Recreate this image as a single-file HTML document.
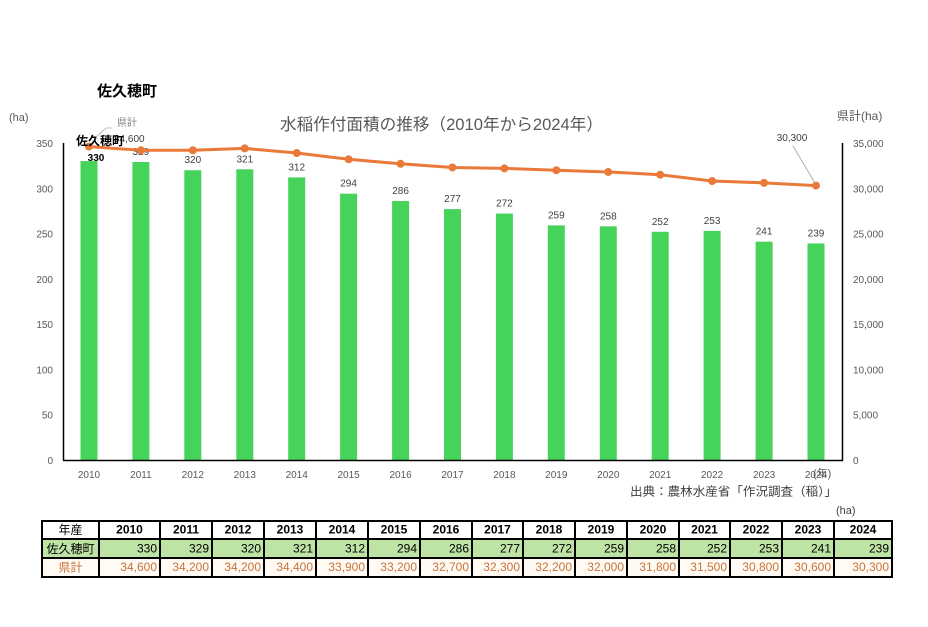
<!DOCTYPE html>
<html><head><meta charset="utf-8"><style>
html,body{margin:0;padding:0;background:#fff;}
svg{display:block;font-family:"Liberation Sans","Noto Sans CJK JP",sans-serif;}
</style></head><body>
<svg width="928" height="627" viewBox="0 0 928 627" xmlns="http://www.w3.org/2000/svg">
<rect width="928" height="627" fill="#fff"/>
<!-- heading -->
<text x="97" y="96" font-size="15" font-weight="bold" fill="#000">佐久穂町</text>
<!-- title -->
<text x="280" y="130" font-size="16.5" fill="#595959" textLength="323" lengthAdjust="spacingAndGlyphs">水稲作付面積の推移（2010年から2024年）</text>
<text x="9" y="121" font-size="11" fill="#595959">(ha)</text>
<text x="837" y="120" font-size="12" fill="#595959">県計(ha)</text>

<!-- left ticks -->
<g font-size="10" fill="#595959" text-anchor="end">
<text x="53" y="147">350</text>
<text x="53" y="192.3">300</text>
<text x="53" y="237.6">250</text>
<text x="53" y="282.9">200</text>
<text x="53" y="328.1">150</text>
<text x="53" y="373.4">100</text>
<text x="53" y="418.7">50</text>
<text x="53" y="464">0</text>
</g>
<g font-size="10" fill="#595959" text-anchor="start">
<text x="853" y="147">35,000</text>
<text x="853" y="192.3">30,000</text>
<text x="853" y="237.6">25,000</text>
<text x="853" y="282.9">20,000</text>
<text x="853" y="328.1">15,000</text>
<text x="853" y="373.4">10,000</text>
<text x="853" y="418.7">5,000</text>
<text x="853" y="464">0</text>
</g>

<!-- bars -->
<g fill="#46d35a">
<rect x="80.5" y="161.1" width="17" height="298.9"/>
<rect x="132.4" y="162.0" width="17" height="298.0"/>
<rect x="184.3" y="170.2" width="17" height="289.8"/>
<rect x="236.3" y="169.3" width="17" height="290.7"/>
<rect x="288.2" y="177.4" width="17" height="282.6"/>
<rect x="340.1" y="193.7" width="17" height="266.3"/>
<rect x="392.1" y="201.0" width="17" height="259.0"/>
<rect x="444.0" y="209.1" width="17" height="250.9"/>
<rect x="495.9" y="213.6" width="17" height="246.4"/>
<rect x="547.8" y="225.4" width="17" height="234.6"/>
<rect x="599.8" y="226.3" width="17" height="233.7"/>
<rect x="651.7" y="231.8" width="17" height="228.2"/>
<rect x="703.6" y="230.9" width="17" height="229.1"/>
<rect x="755.6" y="241.7" width="17" height="218.3"/>
<rect x="807.5" y="243.5" width="17" height="216.5"/>
</g>

<!-- axes -->
<g stroke="#000" stroke-width="1.5" fill="none">
<line x1="63.5" y1="143" x2="63.5" y2="460.5"/>
<line x1="63" y1="460.5" x2="843" y2="460.5"/>
<line x1="842.5" y1="143" x2="842.5" y2="460.5"/>
</g>

<!-- bar labels -->
<g font-size="10" fill="#404040" text-anchor="middle">
<text x="96" y="161" font-weight="bold" fill="#000">330</text>
<text x="140.9" y="155">329</text>
<text x="192.8" y="163.2">320</text>
<text x="244.8" y="162.3">321</text>
<text x="296.7" y="170.4">312</text>
<text x="348.6" y="186.7">294</text>
<text x="400.6" y="194">286</text>
<text x="452.5" y="202.1">277</text>
<text x="504.4" y="206.6">272</text>
<text x="556.3" y="218.4">259</text>
<text x="608.3" y="219.3">258</text>
<text x="660.2" y="224.8">252</text>
<text x="712.1" y="223.9">253</text>
<text x="764.1" y="234.7">241</text>
<text x="816" y="236.5">239</text>
</g>

<!-- line -->
<polyline fill="none" stroke="#ea7a3a" stroke-width="3" stroke-linejoin="round"
 points="88.97,146.6 140.9,150.25 192.83,150.25 244.76,148.4 296.69,153.0 348.62,159.3 400.55,163.8 452.48,167.45 504.41,168.4 556.34,170.2 608.27,171.98 660.2,174.7 712.13,181.04 764.06,182.85 815.99,185.57"/>
<g fill="#ea7a3a">
<circle cx="88.97" cy="146.6" r="4"/>
<circle cx="140.9" cy="150.25" r="4"/>
<circle cx="192.83" cy="150.25" r="4"/>
<circle cx="244.76" cy="148.4" r="4"/>
<circle cx="296.69" cy="153.0" r="4"/>
<circle cx="348.62" cy="159.3" r="4"/>
<circle cx="400.55" cy="163.8" r="4"/>
<circle cx="452.48" cy="167.45" r="4"/>
<circle cx="504.41" cy="168.4" r="4"/>
<circle cx="556.34" cy="170.2" r="4"/>
<circle cx="608.27" cy="171.98" r="4"/>
<circle cx="660.2" cy="174.7" r="4"/>
<circle cx="712.13" cy="181.04" r="4"/>
<circle cx="764.06" cy="182.85" r="4"/>
<circle cx="815.99" cy="185.57" r="4"/>
</g>

<!-- line labels / leaders -->
<polyline points="94,139 106,128 112,128" fill="none" stroke="#a6a6a6" stroke-width="0.8"/>
<text x="127" y="126" font-size="10" fill="#808080" text-anchor="middle">県計</text>
<text x="114" y="142" font-size="10" fill="#404040">34,600</text>
<text x="76" y="145" font-size="12" font-weight="bold" fill="#000">佐久穂町</text>
<line x1="793" y1="146" x2="815" y2="183" stroke="#a6a6a6" stroke-width="0.8"/>
<text x="792" y="141" font-size="10" fill="#404040" text-anchor="middle">30,300</text>

<!-- x labels -->
<g font-size="10" fill="#595959" text-anchor="middle">
<text x="89" y="478">2010</text>
<text x="140.9" y="478">2011</text>
<text x="192.8" y="478">2012</text>
<text x="244.8" y="478">2013</text>
<text x="296.7" y="478">2014</text>
<text x="348.6" y="478">2015</text>
<text x="400.6" y="478">2016</text>
<text x="452.5" y="478">2017</text>
<text x="504.4" y="478">2018</text>
<text x="556.3" y="478">2019</text>
<text x="608.3" y="478">2020</text>
<text x="660.2" y="478">2021</text>
<text x="712.1" y="478">2022</text>
<text x="764.1" y="478">2023</text>
<text x="816" y="478">2024</text>
</g>
<text x="813" y="477" font-size="11" fill="#595959">(年)</text>
<text x="630" y="495.5" font-size="12" fill="#404040" textLength="207" lengthAdjust="spacingAndGlyphs">出典：農林水産省「作況調査（稲）」</text>
<text x="836" y="514" font-size="11" fill="#404040">(ha)</text>

<!-- table -->
<rect x="42" y="539" width="850" height="19" fill="#bde3a5"/>
<rect x="42" y="558" width="850" height="19" fill="#fffaf4"/>
<g stroke="#000" stroke-width="2" fill="none">
<rect x="42" y="521" width="850" height="56"/>
<line x1="42" y1="539" x2="892" y2="539"/>
<line x1="42" y1="558" x2="892" y2="558"/>
<line x1="99" y1="521" x2="99" y2="577"/>
<line x1="160" y1="521" x2="160" y2="577"/>
<line x1="212" y1="521" x2="212" y2="577"/>
<line x1="264" y1="521" x2="264" y2="577"/>
<line x1="316" y1="521" x2="316" y2="577"/>
<line x1="368" y1="521" x2="368" y2="577"/>
<line x1="420" y1="521" x2="420" y2="577"/>
<line x1="472" y1="521" x2="472" y2="577"/>
<line x1="523" y1="521" x2="523" y2="577"/>
<line x1="575" y1="521" x2="575" y2="577"/>
<line x1="627" y1="521" x2="627" y2="577"/>
<line x1="679" y1="521" x2="679" y2="577"/>
<line x1="730" y1="521" x2="730" y2="577"/>
<line x1="782" y1="521" x2="782" y2="577"/>
<line x1="834" y1="521" x2="834" y2="577"/>
</g>
<text x="70.5" y="534" font-size="12" fill="#000" text-anchor="middle">年産</text>
<text x="70.5" y="553" font-size="12" fill="#000" text-anchor="middle">佐久穂町</text>
<text x="70.5" y="571.5" font-size="12" fill="#c8743a" text-anchor="middle">県計</text>
<g font-size="12" font-weight="bold" fill="#000" text-anchor="middle">
<text x="129.5" y="533.5">2010</text>
<text x="186" y="533.5">2011</text>
<text x="238" y="533.5">2012</text>
<text x="290" y="533.5">2013</text>
<text x="342" y="533.5">2014</text>
<text x="394" y="533.5">2015</text>
<text x="446" y="533.5">2016</text>
<text x="497.5" y="533.5">2017</text>
<text x="549" y="533.5">2018</text>
<text x="601" y="533.5">2019</text>
<text x="653" y="533.5">2020</text>
<text x="704.5" y="533.5">2021</text>
<text x="756" y="533.5">2022</text>
<text x="808" y="533.5">2023</text>
<text x="863" y="533.5">2024</text>
</g>
<g font-size="12" fill="#000" text-anchor="end">
<text x="157" y="552.5">330</text>
<text x="209" y="552.5">329</text>
<text x="261" y="552.5">320</text>
<text x="313" y="552.5">321</text>
<text x="365" y="552.5">312</text>
<text x="417" y="552.5">294</text>
<text x="469" y="552.5">286</text>
<text x="520" y="552.5">277</text>
<text x="572" y="552.5">272</text>
<text x="624" y="552.5">259</text>
<text x="676" y="552.5">258</text>
<text x="727" y="552.5">252</text>
<text x="779" y="552.5">253</text>
<text x="831" y="552.5">241</text>
<text x="889" y="552.5">239</text>
</g>
<g font-size="12" fill="#c8743a" text-anchor="end">
<text x="157" y="571">34,600</text>
<text x="209" y="571">34,200</text>
<text x="261" y="571">34,200</text>
<text x="313" y="571">34,400</text>
<text x="365" y="571">33,900</text>
<text x="417" y="571">33,200</text>
<text x="469" y="571">32,700</text>
<text x="520" y="571">32,300</text>
<text x="572" y="571">32,200</text>
<text x="624" y="571">32,000</text>
<text x="676" y="571">31,800</text>
<text x="727" y="571">31,500</text>
<text x="779" y="571">30,800</text>
<text x="831" y="571">30,600</text>
<text x="889" y="571">30,300</text>
</g>
</svg>
</body></html>
